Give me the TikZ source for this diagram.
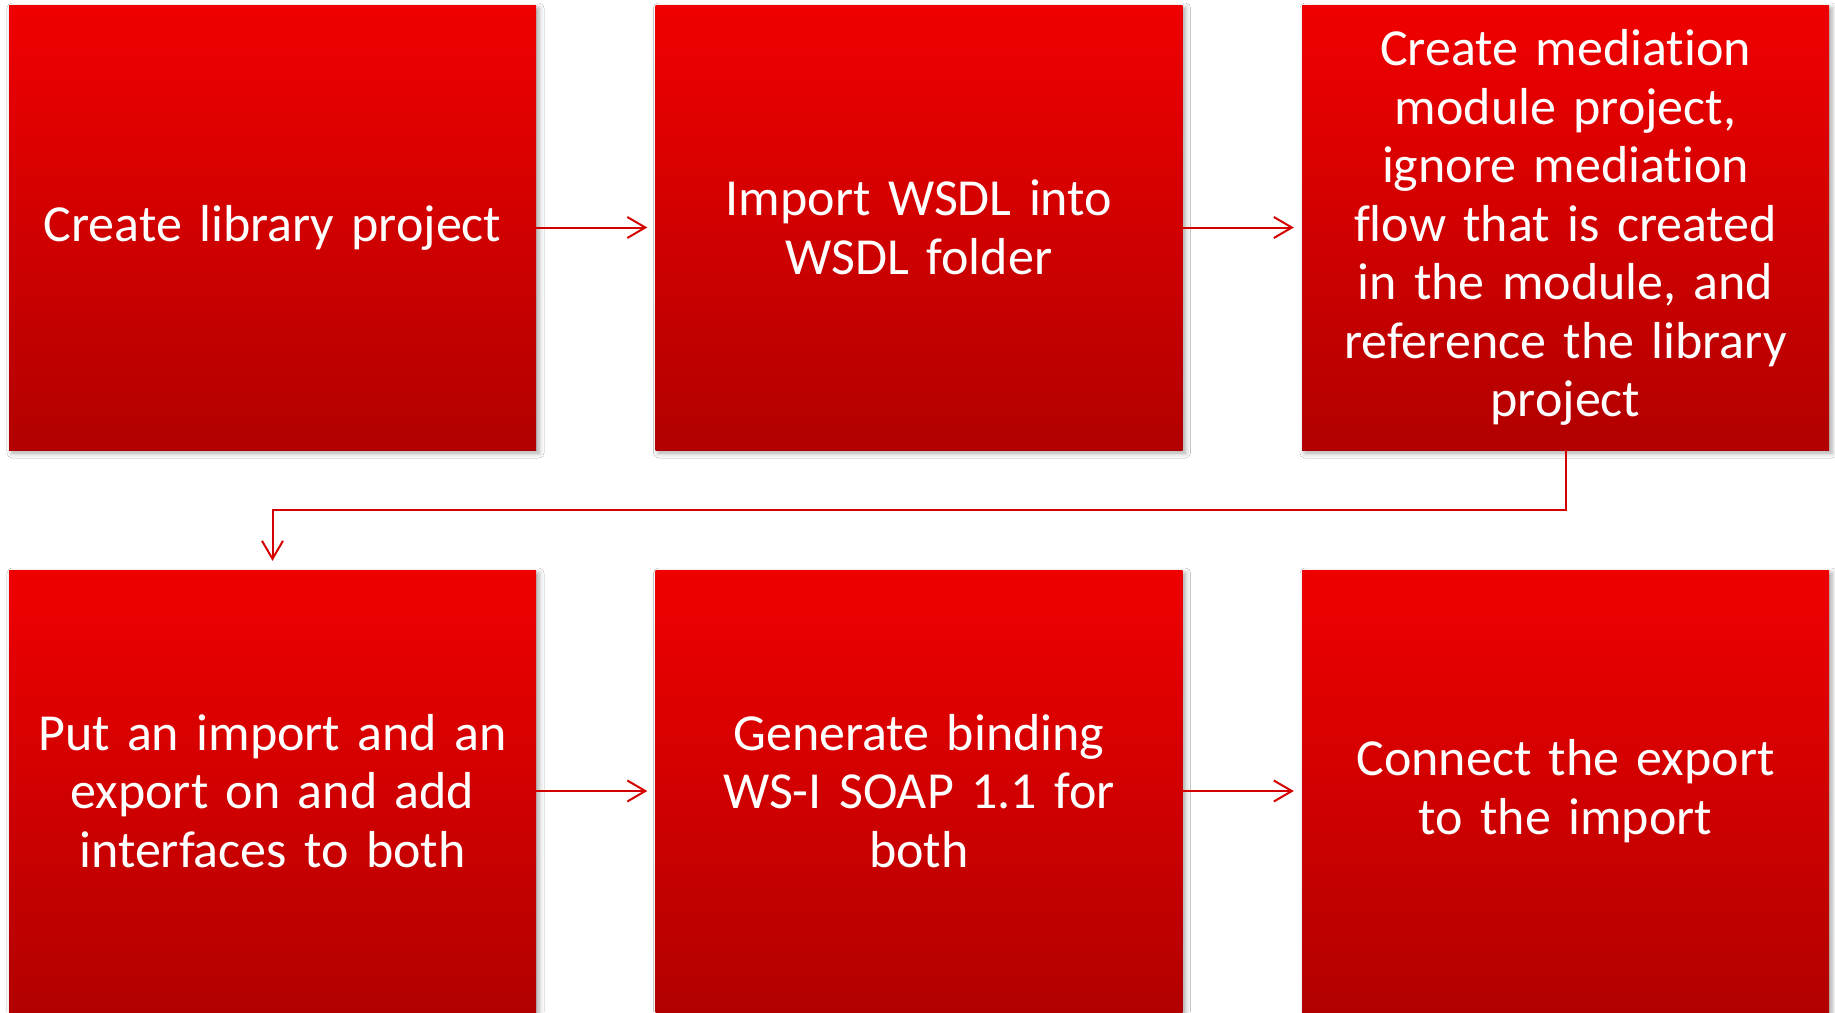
\documentclass[tikz,border=0pt]{standalone}
\usepackage{fontspec}
\setmainfont{Carlito}[Ligatures={NoCommon}]
\usetikzlibrary{arrows.meta,shadows.blur}
\definecolor{boxtop}{RGB}{240,0,0}
\definecolor{boxbot}{RGB}{178,0,0}
\definecolor{linered}{RGB}{212,0,0}
\begin{document}
\begin{tikzpicture}[x=1pt,y=1pt,
  stepbox/.style={rectangle, draw=none, minimum width=527pt, inner sep=0pt,
    top color=boxtop, bottom color=boxbot, text=white, align=center,
    text width=500pt, font=\fontsize{52}{58.5}\selectfont,
    blur shadow={shadow xshift=3pt, shadow yshift=-3pt, shadow blur radius=5pt, shadow opacity=35}},
  toprow/.style={minimum height=445pt},
  botrow/.style={minimum height=442pt},
  conn/.style={draw=linered, line width=2pt,
    -{Straight Barb[length=18pt,width=21pt,line width=2pt]}}
]
\useasboundingbox (0,0) rectangle (1835,-1012);
\fill[white] (0,0) rectangle (1835,-1012);
\node[stepbox,toprow] (b1) at (272.5,-227.5) {Create library project};
\node[stepbox,toprow] (b2) at (919,-227.5) {Import WSDL into\\WSDL folder};
\node[stepbox,toprow] (b3) at (1565.5,-227.5) {Create mediation\\module project,\\ignore mediation\\flow that is created\\in the module, and\\reference the library\\project};
\node[stepbox,botrow] (b4) at (272.5,-791) {Put an import and an\\export on and add\\interfaces to both};
\node[stepbox,botrow] (b5) at (919,-791) {Generate binding\\WS-I SOAP 1.1 for\\both};
\node[stepbox,botrow] (b6) at (1565.5,-791) {Connect the export\\to the import};
\coordinate (elbow) at (1565.5,-509.5);
\draw[conn, shorten >=8pt] (b1.east) -- (b2.west);
\draw[conn, shorten >=8pt] (b2.east) -- (b3.west);
\draw[conn, shorten >=9pt] (b3.south) -- (elbow) -| (b4.north);
\draw[conn, shorten >=8pt] (b4.east) -- (b5.west);
\draw[conn, shorten >=8pt] (b5.east) -- (b6.west);
\end{tikzpicture}
\end{document}
